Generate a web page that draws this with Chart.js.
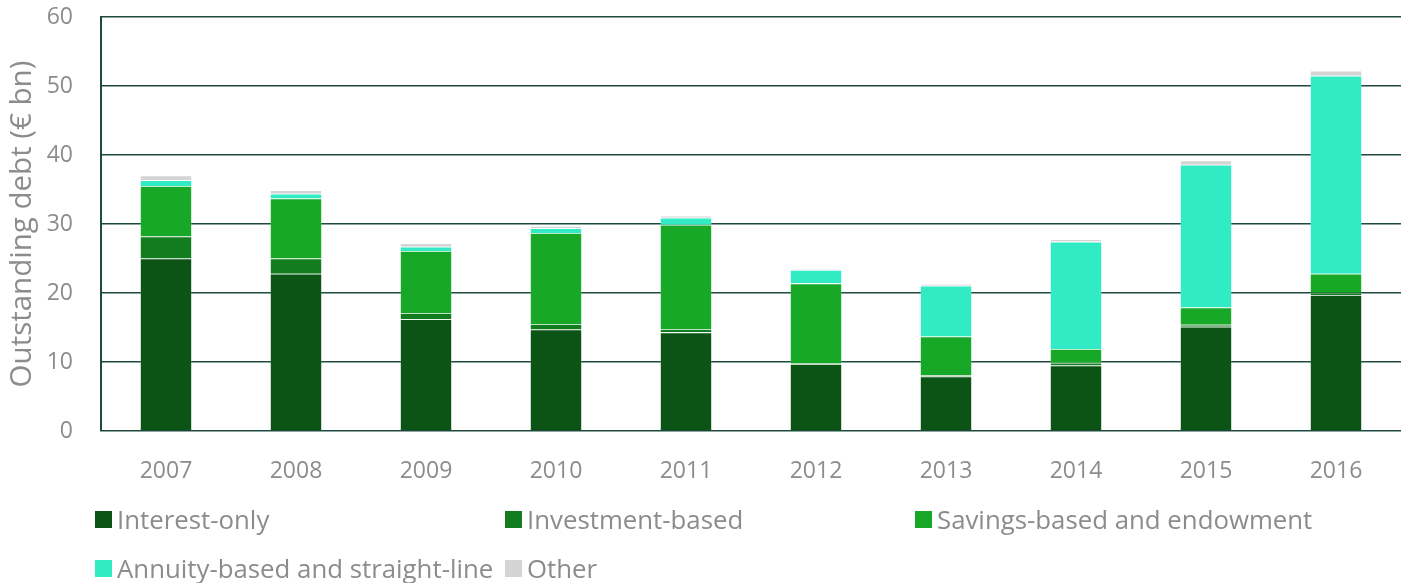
<!DOCTYPE html>
<html>
<head>
<meta charset="utf-8">
<script src="https://cdn.jsdelivr.net/npm/chart.js@4"></script>
<style>
  html, body { margin: 0; padding: 0; background: #fff; }
  #wrap { position: relative; width: 1407px; height: 583px; overflow: hidden; }
  #cbox { position: absolute; left: 0; top: 0; width: 1407px; height: 583px; }
  #legend { position: absolute; left: 95px; top: 501px; width: 1300px; font-family: "Open Sans", sans-serif; font-size: 25.8px; color: #8c8c8c; }
  .item { position: absolute; white-space: nowrap; display: flex; align-items: center; }
  .box { width: 17px; height: 17px; margin-right: 5px; }
</style>
</head>
<body>
<div id="wrap">
  <div id="cbox"><canvas id="c"></canvas></div>
  <div id="legend"></div>
</div>
<script>
const categories = ["2007","2008","2009","2010","2011","2012","2013","2014","2015","2016"];
const interestOnly   = [25.0, 22.8, 16.2, 14.7, 14.3, 9.7, 7.9, 9.5, 15.1, 19.7];
const investmentBased = [3.2, 2.2, 0.9, 0.8, 0.5, 0.1, 0.2, 0.4, 0.3, 0.35];
const savingsBased   = [7.3, 8.7, 9.0, 13.2, 15.1, 11.6, 5.6, 2.0, 2.5, 2.75];
const annuityBased   = [0.85, 0.7, 0.6, 0.7, 1.0, 1.95, 7.35, 15.55, 20.7, 28.7];
const other          = [0.7, 0.5, 0.5, 0.3, 0.3, 0.1, 0.25, 0.35, 0.6, 0.7];
const yTicks = [0, 10, 20, 30, 40, 50, 60];

const seriesNames = ["Interest-only", "Investment-based", "Savings-based and endowment", "Annuity-based and straight-line", "Other"];
const seriesColors = ["#0c5316", "#127d1e", "#16a826", "#30ebc3", "#d4d4d4"];
const seriesData = [interestOnly, investmentBased, savingsBased, annuityBased, other];

const font = "'Open Sans', sans-serif";
const grey = "#8c8c8c";

const chart = new Chart(document.getElementById("c"), {
  type: "bar",
  data: {
    labels: categories,
    datasets: seriesData.map((d, i) => ({
      label: seriesNames[i],
      data: d,
      backgroundColor: seriesColors[i],
      borderColor: "rgba(255,255,255,0.18)",
      borderWidth: 0.8,
      barPercentage: 0.4,
      categoryPercentage: 1.0
    }))
  },
  options: {
    responsive: true,
    maintainAspectRatio: false,
    animation: false,
    layout: { padding: { left: 0, right: 6, top: 0, bottom: 100 } },
    plugins: { legend: { display: false }, tooltip: { enabled: false } },
    scales: {
      x: {
        stacked: true,
        grid: { display: false, drawTicks: false },
        border: { display: false },
        ticks: { color: grey, font: { family: font, size: 23 }, padding: 27 },
        afterFit: (axis) => { axis.height = 52; axis.paddingLeft = 0; axis.paddingRight = 0; }
      },
      y: {
        stacked: true,
        min: 0, max: 60,
        afterBuildTicks: (axis) => { axis.ticks = yTicks.map(v => ({ value: v })); },
        grid: { color: "#1f4a40", lineWidth: 1.6, drawTicks: false },
        border: { display: true, color: "#1f4a40", width: 2 },
        ticks: { color: grey, font: { family: font, size: 23 }, padding: 28 },
        title: { display: true, text: "Outstanding debt (€ bn)", color: grey, font: { family: font, size: 29.5 }, padding: { top: 5, bottom: 0 } },
        afterFit: (axis) => { axis.width = 101; axis.paddingTop = 17; axis.paddingBottom = 0; }
      }
    }
  }
});

const legend = document.getElementById("legend");
const positions = [[0,0],[410,0],[820,0],[0,49],[410,49]];
chart.data.datasets.forEach((ds, i) => {
  const it = document.createElement("div");
  it.className = "item";
  it.style.left = positions[i][0] + "px";
  it.style.top = positions[i][1] + "px";
  const b = document.createElement("span");
  b.className = "box";
  b.style.background = ds.backgroundColor;
  const t = document.createElement("span");
  t.textContent = ds.label;
  it.appendChild(b); it.appendChild(t);
  legend.appendChild(it);
});
</script>
</body>
</html>
